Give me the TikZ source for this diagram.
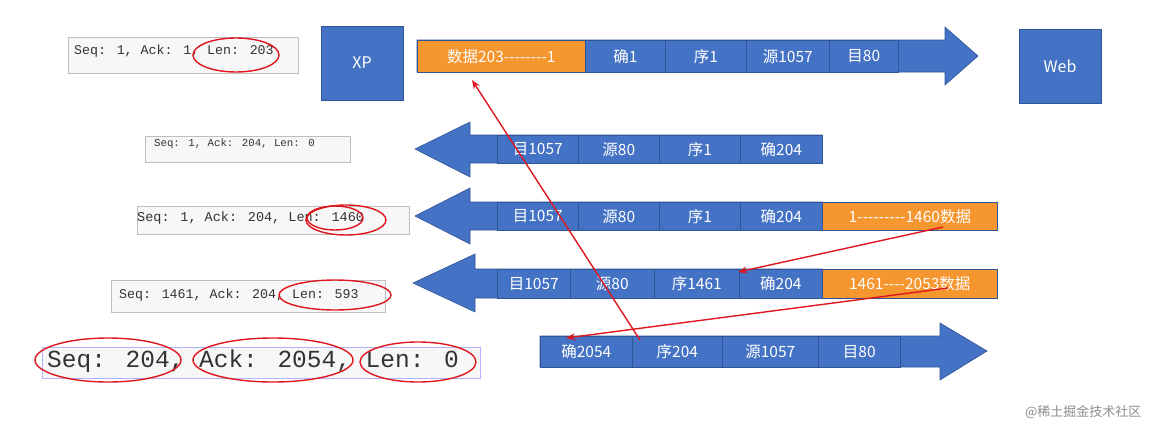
\documentclass[tikz,border=0pt]{standalone}
\usepackage{fontspec}
\setmainfont{Noto Sans CJK SC}
\newfontfamily\monof{Liberation Mono}
\usetikzlibrary{arrows.meta}
\definecolor{bl}{HTML}{4472C4}
\definecolor{bld}{HTML}{2F5597}
\definecolor{org}{HTML}{F5962F}
\definecolor{rd}{HTML}{E0161E}
\def\dd{-{}}
\tikzset{
 x=1pt,y=-1pt,
 cell/.style={draw=bld,line width=0.6pt,fill=bl,text=white,inner sep=0pt,font=\fontsize{15.5}{15.5}\selectfont,anchor=north west},
 ocell/.style={cell,fill=org},
 arr/.style={fill=bl,draw=bld,line width=0.6pt},
 shot/.style={draw=black!25,fill=black!3,anchor=north west,inner sep=0pt},
 shottxt/.style={font=\monof\fontsize{13.3}{13.3}\selectfont,anchor=west,inner sep=0pt,text=black!80},
 oval/.style={draw=rd,line width=1.4pt},
 redline/.style={draw=rd,line width=1.4pt,-{Stealth[length=9pt,width=7pt]}},
 box/.style={fill=bl,draw=bld,line width=0.8pt,text=white,font=\fontsize{16}{16}\selectfont,inner sep=0pt}
}
\begin{document}
\begin{tikzpicture}
\useasboundingbox (0,0) rectangle (1157,439);
\node[box,minimum width=82pt,minimum height=74pt] (xp) at (362,63) {XP};
\node[box,minimum width=82pt,minimum height=74pt] (web) at (1060,66) {Web};
\path[arr] (417,40) -- (945,40) -- (945,27) -- (978,56) -- (945,85) -- (945,72) -- (417,72) -- cycle;
\node[ocell,minimum width=168pt,minimum height=32pt] (a1) at (417,40) {数据203\dd\dd\dd\dd\dd\dd\dd\dd1};
\node[cell,minimum width=80pt,minimum height=32pt] (a2) at (585,40) {确1};
\node[cell,minimum width=81pt,minimum height=32pt] (a3) at (665,40) {序1};
\node[cell,minimum width=83pt,minimum height=32pt] (a4) at (746,40) {源1057};
\node[cell,minimum width=69pt,minimum height=32pt] (a5) at (829,40) {目80};
\path[arr] (822,135) -- (470,135) -- (470,122) -- (415,149) -- (470,177) -- (470,163) -- (822,163) -- cycle;
\node[cell,minimum width=81pt,minimum height=28pt] (b1) at (497,135) {目1057};
\node[cell,minimum width=81pt,minimum height=28pt] (b2) at (578,135) {源80};
\node[cell,minimum width=81pt,minimum height=28pt] (b3) at (659,135) {序1};
\node[cell,minimum width=82pt,minimum height=28pt] (b4) at (740,135) {确204};
\path[arr] (822,202) -- (470,202) -- (470,188) -- (415,216) -- (470,244) -- (470,230) -- (822,230) -- cycle;
\node[cell,minimum width=81pt,minimum height=28pt] (c1) at (497,202) {目1057};
\node[cell,minimum width=81pt,minimum height=28pt] (c2) at (578,202) {源80};
\node[cell,minimum width=81pt,minimum height=28pt] (c3) at (659,202) {序1};
\node[cell,minimum width=82pt,minimum height=28pt] (c4) at (740,202) {确204};
\node[ocell,minimum width=175pt,minimum height=28pt] (c5) at (822,202) {1\dd\dd\dd\dd\dd\dd\dd\dd\dd1460数据};
\path[arr] (822,269) -- (475,269) -- (475,254) -- (413,283) -- (475,312) -- (475,298) -- (822,298) -- cycle;
\node[cell,minimum width=73pt,minimum height=29pt] (d1) at (497,269) {目1057};
\node[cell,minimum width=84pt,minimum height=29pt] (d2) at (570,269) {源80};
\node[cell,minimum width=85pt,minimum height=29pt] (d3) at (654,269) {序1461};
\node[cell,minimum width=83pt,minimum height=29pt] (d4) at (739,269) {确204};
\node[ocell,minimum width=175pt,minimum height=29pt] (d5) at (822,269) {1461\dd\dd\dd\dd2053数据};
\path[arr] (540,336) -- (940,336) -- (940,323) -- (987,351) -- (940,380) -- (940,367) -- (540,367) -- cycle;
\node[cell,minimum width=92pt,minimum height=31pt] (e1) at (540,336) {确2054};
\node[cell,minimum width=90pt,minimum height=31pt] (e2) at (632,336) {序204};
\node[cell,minimum width=96pt,minimum height=31pt] (e3) at (722,336) {源1057};
\node[cell,minimum width=82pt,minimum height=31pt] (e4) at (818,336) {目80};
\node[shot,minimum width=230pt,minimum height=36pt] (s1) at (68,37) {};
\node[shottxt] (t1) at (74,51) {Seq: 1, Ack: 1, Len: 203};
\node[shot,minimum width=205pt,minimum height=26pt] (s2) at (145,136) {};
\node[shottxt,font=\monof\fontsize{10.7}{10.7}\selectfont] (t2) at (154,144) {Seq: 1, Ack: 204, Len: 0};
\node[shot,minimum width=272pt,minimum height=28pt] (s3) at (137,206) {};
\node[shottxt,font=\monof\fontsize{13.5}{13.5}\selectfont] (t3) at (137,218) {Seq: 1, Ack: 204, Len: 1460};
\node[shot,minimum width=274pt,minimum height=32pt] (s4) at (111,280) {};
\node[shottxt] (t4) at (119,295) {Seq: 1461, Ack: 204, Len: 593};
\node[shot,draw=blue!30,minimum width=438pt,minimum height=31pt] (s5) at (42,347) {};
\node[shottxt,font=\monof\fontsize{24.5}{24.5}\selectfont] (t5) at (47,361) {Seq: 204, Ack: 2054, Len: 0};
\draw[oval] (236,55) ellipse [x radius=43,y radius=17];
\draw[oval] (346,220) ellipse [x radius=40,y radius=15];
\draw[oval] (335,218) ellipse [x radius=28,y radius=12];
\draw[oval] (335,295) ellipse [x radius=56,y radius=15];
\draw[oval] (108,360) ellipse [x radius=73,y radius=22];
\draw[oval] (273,360) ellipse [x radius=80,y radius=22];
\draw[oval] (418,362) ellipse [x radius=58,y radius=20];
\coordinate (p1) at (640,340);
\coordinate (q1) at (472,80);
\coordinate (p2) at (943,227);
\coordinate (q2) at (738,272);
\coordinate (p3) at (948,288);
\coordinate (q3) at (566,338);
\draw[redline] (p1) -- (q1);
\draw[redline] (p2) -- (q2);
\draw[redline] (p3) -- (q3);
\node[text=black!45,font=\fontsize{13}{13}\selectfont,anchor=east] (wm) at (1145,412) {@稀土掘金技术社区};
\end{tikzpicture}
\end{document}
